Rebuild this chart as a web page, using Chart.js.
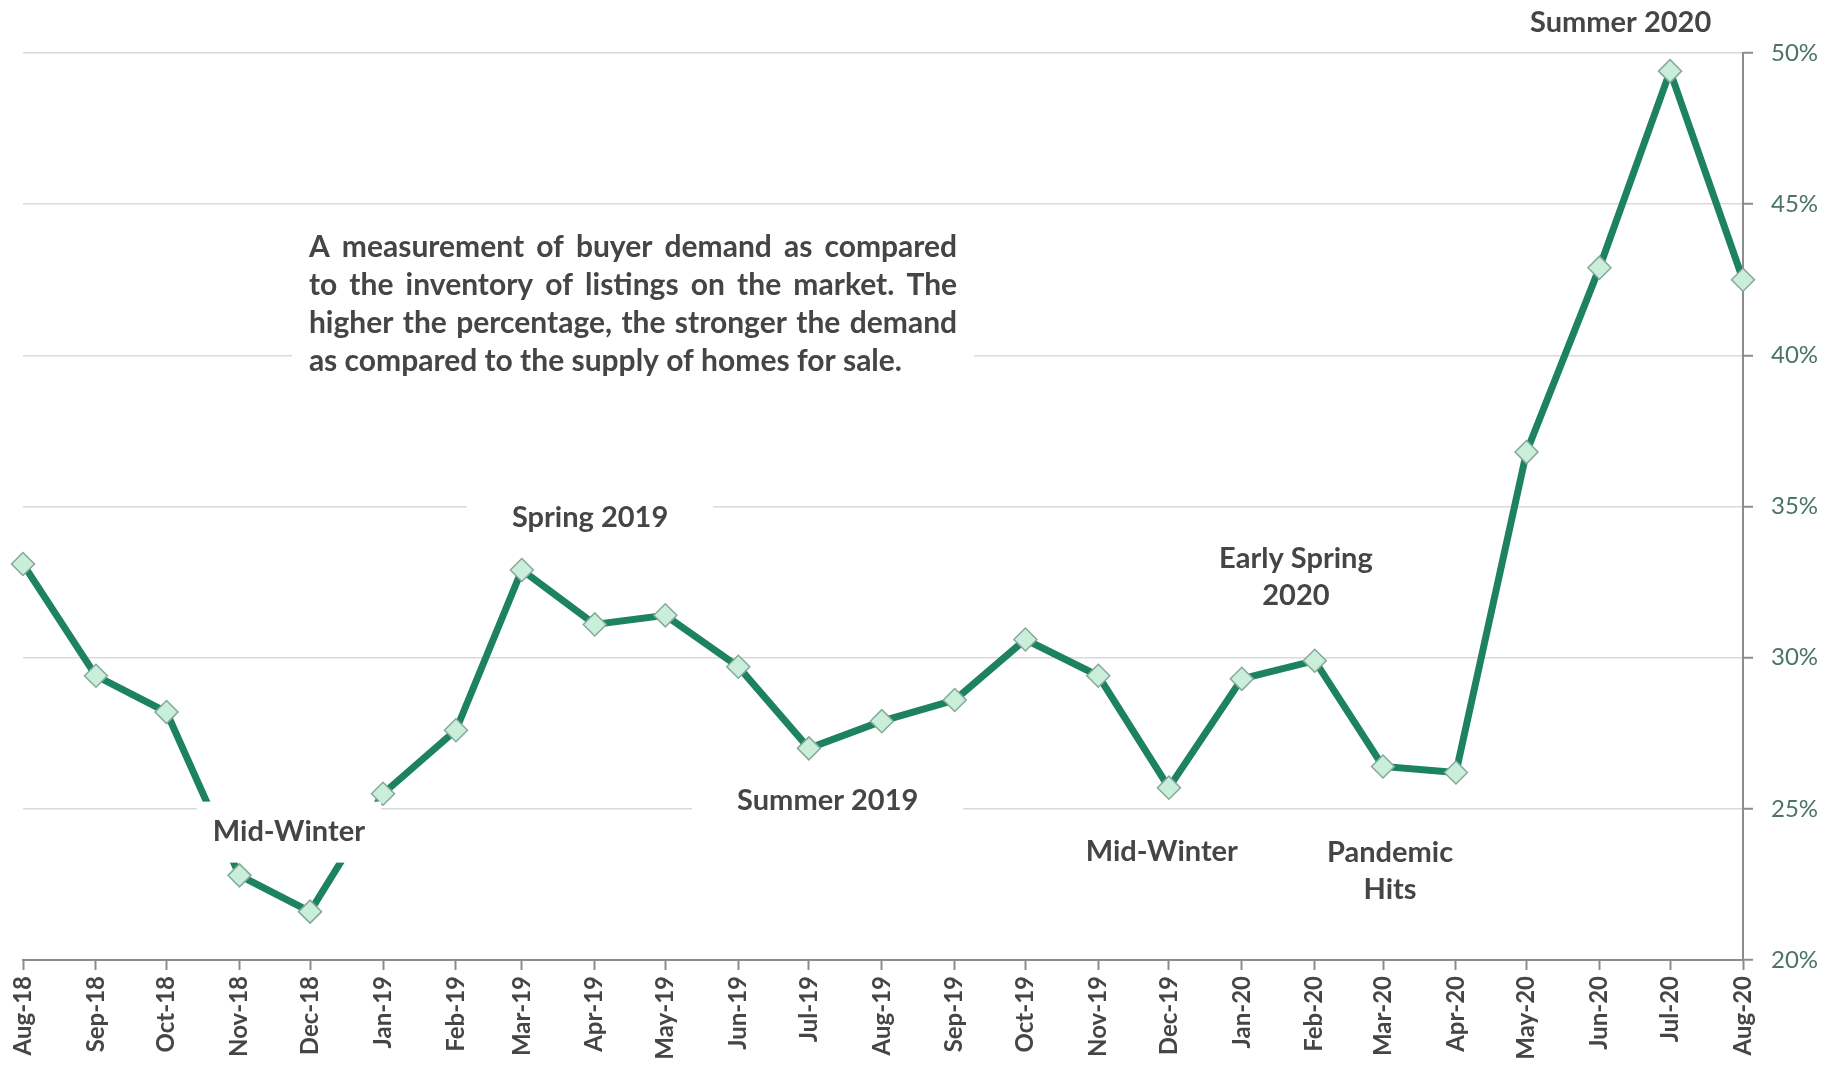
<!DOCTYPE html>
<html>
<head>
<meta charset="utf-8">
<script src="https://cdn.jsdelivr.net/npm/chart.js@4/dist/chart.umd.min.js"></script>
<style>
    html, body { margin: 0; padding: 0; background: #fff; }
    #grafico { display: block; }
</style>
</head>
<body>
<canvas id="grafico" width="1829" height="1070"></canvas>
<script>
const months = ['Aug-18', 'Sep-18', 'Oct-18', 'Nov-18', 'Dec-18', 'Jan-19', 'Feb-19', 'Mar-19', 'Apr-19',
    'May-19', 'Jun-19', 'Jul-19', 'Aug-19', 'Sep-19', 'Oct-19', 'Nov-19', 'Dec-19', 'Jan-20', 'Feb-20',
    'Mar-20', 'Apr-20', 'May-20', 'Jun-20', 'Jul-20', 'Aug-20'];
const monthStarts = ['2018-08-01', '2018-09-01', '2018-10-01', '2018-11-01', '2018-12-01', '2019-01-01',
    '2019-02-01', '2019-03-01', '2019-04-01', '2019-05-01', '2019-06-01', '2019-07-01', '2019-08-01',
    '2019-09-01', '2019-10-01', '2019-11-01', '2019-12-01', '2020-01-01', '2020-02-01', '2020-03-01',
    '2020-04-01', '2020-05-01', '2020-06-01', '2020-07-01', '2020-08-01'];
const demand = [33.1, 29.4, 28.2, 22.8, 21.6, 25.5, 27.6, 32.9, 31.1, 31.4, 29.7, 27.0, 27.9,
    28.6, 30.6, 29.4, 25.7, 29.3, 29.9, 26.4, 26.2, 36.8, 42.9, 49.4, 42.5];
const percentTicks = [20, 25, 30, 35, 40, 45, 50];

// notes are anchored in data units (days since Aug-18, percent)
const notes = [
    { lines: ['Summer 2020'], day: 679, value: 51.0, padX: 0, padY: 0 },
    { lines: ['Spring 2019'], day: 241, value: 34.62, padX: 45, padY: 10 },
    { lines: ['Mid-Winter'], day: 113, value: 24.23, padX: 16, padY: 12 },
    { lines: ['Summer 2019'], day: 342, value: 25.26, padX: 45, padY: 12 },
    { lines: ['Mid-Winter'], day: 484, value: 23.57, padX: 16, padY: 8 },
    { lines: ['Early Spring', '2020'], day: 541, value: 32.67, padX: 14, padY: 6 },
    { lines: ['Pandemic', 'Hits'], day: 581, value: 22.94, padX: 14, padY: 6 }
];
const blurb = {
    lines: ['A measurement of buyer demand as compared',
        'to the inventory of listings on the market. The',
        'higher the percentage, the stronger the demand',
        'as compared to the supply of homes for sale.'],
    left: 121.5, right: 397, value: 43.57
};

const DAY = 24 * 3600 * 1000;
const days = monthStarts.map(d => Math.round((Date.parse(d) - Date.parse(monthStarts[0])) / DAY));

const textColor = '#454545';
const noteFont = 'bold 29px Lato';
const noteLine = 37;

const notesPlugin = {
    id: 'notes',
    afterDatasetsDraw(chart) {
        const ctx = chart.ctx;
        const x = chart.scales.x;
        const y = chart.scales.y;
        ctx.save();

        // paragraph, justified
        ctx.font = 'bold 30px Lato';
        const left = x.getPixelForValue(blurb.left);
        const right = x.getPixelForValue(blurb.right);
        const top = y.getPixelForValue(blurb.value);
        const lh = 38;
        ctx.fillStyle = '#fff';
        ctx.fillRect(left - 17, top - lh / 2 - 8, right - left + 34, lh * blurb.lines.length + 16);
        ctx.fillStyle = textColor;
        ctx.textBaseline = 'middle';
        ctx.textAlign = 'left';
        blurb.lines.forEach((line, i) => {
            const ly = top + i * lh;
            const words = line.split(' ');
            if (i === blurb.lines.length - 1) {
                ctx.fillText(line, left, ly);
                return;
            }
            const total = words.reduce((s, w) => s + ctx.measureText(w).width, 0);
            const gap = (right - left - total) / (words.length - 1);
            let px = left;
            words.forEach(w => {
                ctx.fillText(w, px, ly);
                px += ctx.measureText(w).width + gap;
            });
        });

        // labels
        ctx.font = noteFont;
        ctx.textAlign = 'center';
        notes.forEach(n => {
            const cx = x.getPixelForValue(n.day);
            const cy = y.getPixelForValue(n.value);
            const w = Math.max(...n.lines.map(l => ctx.measureText(l).width));
            const h = n.lines.length * noteLine;
            if (n.padX || n.padY) {
                ctx.fillStyle = '#fff';
                ctx.fillRect(cx - w / 2 - n.padX, cy - h / 2 - n.padY, w + 2 * n.padX, h + 2 * n.padY);
            }
            ctx.fillStyle = textColor;
            n.lines.forEach((l, i) => ctx.fillText(l, cx, cy - h / 2 + noteLine * (i + 0.5)));
        });
        ctx.restore();
    }
};

const ctx = document.getElementById('grafico').getContext('2d');
new Chart(ctx, {
    type: 'line',
    data: {
        datasets: [{
            data: days.map((d, i) => ({ x: d, y: demand[i] })),
            borderColor: '#1d8260',
            borderWidth: 7,
            tension: 0,
            pointStyle: 'rectRot',
            pointRadius: 11.5,
            pointBackgroundColor: '#c9efdb',
            pointBorderColor: '#86a898',
            pointBorderWidth: 1.5,
            clip: false
        }]
    },
    options: {
        responsive: false,
        animation: false,
        layout: { padding: { left: 23, top: 53, right: 0, bottom: 0 } },
        plugins: { legend: { display: false }, tooltip: { enabled: false } },
        scales: {
            x: {
                type: 'linear',
                min: days[0],
                max: days[days.length - 1],
                afterBuildTicks: s => { s.ticks = days.map(v => ({ value: v })); },
                afterFit: s => { s.height = 110; },
                ticks: {
                    callback: v => months[days.indexOf(v)],
                    autoSkip: false,
                    minRotation: 90,
                    maxRotation: 90,
                    padding: 6,
                    color: textColor,
                    font: { family: 'Lato', size: 24, weight: 'bold' }
                },
                grid: { drawOnChartArea: false, tickLength: 10, tickColor: '#8c8c8c', tickWidth: 2 },
                border: { color: '#8c8c8c', width: 2 }
            },
            y: {
                position: 'right',
                min: 20,
                max: 50,
                afterBuildTicks: s => { s.ticks = percentTicks.map(v => ({ value: v })); },
                afterFit: s => { s.width = 86; },
                ticks: {
                    callback: v => v + '%',
                    padding: 18,
                    color: '#4a7565',
                    font: { family: 'Lato', size: 24 }
                },
                grid: {
                    color: c => (c.tick && c.tick.value === 20) ? 'rgba(0,0,0,0)' : '#d9d9d9',
                    lineWidth: 1.5,
                    tickLength: 10,
                    tickColor: '#8c8c8c',
                    tickWidth: 2
                },
                border: { color: '#8c8c8c', width: 2 }
            }
        }
    },
    plugins: [notesPlugin]
});
</script>
</body>
</html>
